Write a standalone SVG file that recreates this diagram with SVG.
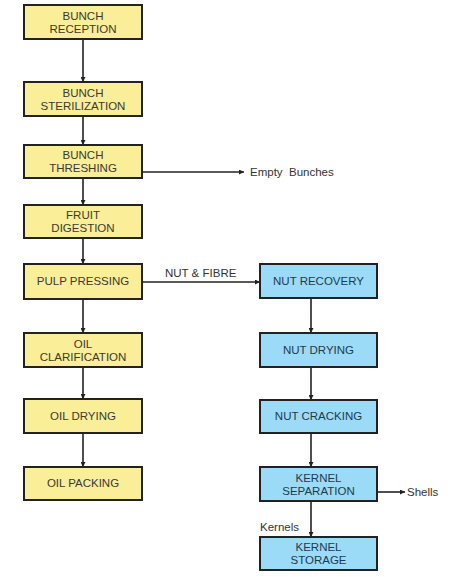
<svg xmlns="http://www.w3.org/2000/svg" width="450" height="577" viewBox="0 0 450 577">
<style>
.y{fill:#FBEE98;stroke:#222;stroke-width:2}
.b{fill:#9BDBF7;stroke:#222;stroke-width:2}
.ty{font-family:"Liberation Sans",Arial,sans-serif;font-size:11.5px;fill:#3a3a30;text-anchor:middle}
.tb{font-family:"Liberation Sans",Arial,sans-serif;font-size:11.5px;fill:#1d3a4e;text-anchor:middle}
.lbl{font-family:"Liberation Sans",Arial,sans-serif;font-size:11.5px;fill:#333}
.c{stroke:#222;stroke-width:1.6;fill:none;marker-end:url(#ah)}
</style>
<defs>
<marker id="ah" viewBox="0 0 10 10" refX="10" refY="5" markerWidth="5" markerHeight="5" markerUnits="userSpaceOnUse" orient="auto">
<path d="M0,0 L10,5 L0,10 z" fill="#222"/>
</marker>
</defs>
<rect width="450" height="577" fill="#fff"/>
<g id="connectors">
<line class="c" x1="83" y1="39" x2="83" y2="82"/>
<line class="c" x1="83" y1="116" x2="83" y2="145"/>
<line class="c" x1="83" y1="178" x2="83" y2="205"/>
<line class="c" x1="142" y1="172" x2="244" y2="172"/>
<line class="c" x1="83" y1="238" x2="83" y2="264"/>
<line class="c" x1="142" y1="282" x2="260" y2="282"/>
<line class="c" x1="83" y1="299" x2="83" y2="333"/>
<line class="c" x1="83" y1="367" x2="83" y2="399"/>
<line class="c" x1="83" y1="433" x2="83" y2="467"/>
<line class="c" x1="311" y1="298" x2="311" y2="333"/>
<line class="c" x1="311" y1="367" x2="311" y2="400"/>
<line class="c" x1="311" y1="433" x2="311" y2="467"/>
<line class="c" x1="377" y1="492" x2="405" y2="492"/>
<line class="c" x1="311" y1="501" x2="311" y2="537"/>
<text class="lbl" x="250" y="176" xml:space="preserve">Empty  Bunches</text>
<text class="lbl" x="165" y="277">NUT &amp; FIBRE</text>
<text class="lbl" x="407" y="496">Shells</text>
<text class="lbl" x="260" y="531">Kernels</text>
</g>
<g id="bunch-reception"><rect class="y" x="24" y="5" width="118" height="34"/><text class="ty" x="83" y="20">BUNCH</text><text class="ty" x="83" y="33">RECEPTION</text></g>
<g id="bunch-sterilization"><rect class="y" x="24" y="82" width="118" height="34"/><text class="ty" x="83" y="97">BUNCH</text><text class="ty" x="83" y="110">STERILIZATION</text></g>
<g id="bunch-threshing"><rect class="y" x="24" y="145" width="118" height="33"/><text class="ty" x="83" y="159">BUNCH</text><text class="ty" x="83" y="172">THRESHING</text></g>
<g id="fruit-digestion"><rect class="y" x="24" y="205" width="118" height="33"/><text class="ty" x="83" y="219">FRUIT</text><text class="ty" x="83" y="232">DIGESTION</text></g>
<g id="pulp-pressing"><rect class="y" x="24" y="264" width="118" height="35"/><text class="ty" x="83" y="285">PULP PRESSING</text></g>
<g id="oil-clarification"><rect class="y" x="24" y="333" width="118" height="34"/><text class="ty" x="83" y="348">OIL</text><text class="ty" x="83" y="361">CLARIFICATION</text></g>
<g id="oil-drying"><rect class="y" x="24" y="399" width="118" height="34"/><text class="ty" x="83" y="420">OIL DRYING</text></g>
<g id="oil-packing"><rect class="y" x="24" y="467" width="118" height="33"/><text class="ty" x="83" y="487">OIL PACKING</text></g>
<g id="nut-recovery"><rect class="b" x="260" y="264" width="117" height="34"/><text class="tb" x="318.5" y="285">NUT RECOVERY</text></g>
<g id="nut-drying"><rect class="b" x="260" y="333" width="117" height="34"/><text class="tb" x="318.5" y="354">NUT DRYING</text></g>
<g id="nut-cracking"><rect class="b" x="260" y="400" width="117" height="33"/><text class="tb" x="318.5" y="420">NUT CRACKING</text></g>
<g id="kernel-separation"><rect class="b" x="260" y="467" width="117" height="34"/><text class="tb" x="318.5" y="482">KERNEL</text><text class="tb" x="318.5" y="495">SEPARATION</text></g>
<g id="kernel-storage"><rect class="b" x="260" y="537" width="117" height="33"/><text class="tb" x="318.5" y="551">KERNEL</text><text class="tb" x="318.5" y="564">STORAGE</text></g>
</svg>
